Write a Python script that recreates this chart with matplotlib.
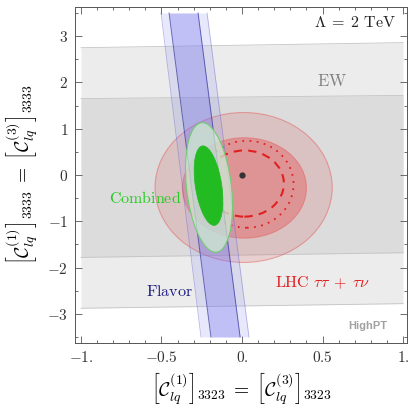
import matplotlib
matplotlib.use('Agg')
import matplotlib.pyplot as plt
from matplotlib.patches import Ellipse
from matplotlib.ticker import FixedLocator, FixedFormatter, MultipleLocator

plt.rcParams['mathtext.fontset'] = 'cm'
plt.rcParams['font.family'] = ['DejaVu Serif']

# EW bands (x ends, lower / upper edges)
ew_x = [-1.0, 1.0]
ew_outer_lo = [-2.88, -2.78]
ew_outer_hi = [2.75, 2.86]
ew_inner_lo = [-1.78, -1.68]
ew_inner_hi = [1.65, 1.72]

# Flavor band (edges at y = -3.5 and y = 3.5)
flav_y = [-3.5, 3.5]
flav_outer_l = [-0.255, -0.503]
flav_outer_r = [0.043, -0.217]
flav_inner_l = [-0.193, -0.453]
flav_inner_r = [-0.012, -0.273]

# LHC regions: (cx, cy, width, height)
lhc_outer = (0.01, -0.27, 1.10, 3.24)
lhc_inner = (0.015, -0.28, 0.77, 2.17)
lhc_dotted = (0.03, -0.20, 0.58, 1.88)
lhc_dashed = (0.015, -0.185, 0.49, 1.43)
lhc_best = (0.0, 0.0)

# Combined fit: (cx, cy, width, height, angle)
comb_outer = (-0.205, -0.27, 0.28, 2.80, 1.7)
comb_inner = (-0.208, -0.23, 0.165, 1.72, 2.3)

fig = plt.figure(figsize=(4.11, 4.11), dpi=100)
ax = fig.add_axes([0.1825, 0.1655, 0.808, 0.8175])

# EW
ax.fill_between(ew_x, ew_outer_lo, ew_outer_hi, color='#ececec', lw=0, zorder=1)
ax.fill_between(ew_x, ew_inner_lo, ew_inner_hi, color='#dcdcdc', lw=0, zorder=1)
for edge in (ew_outer_lo, ew_outer_hi, ew_inner_lo, ew_inner_hi):
    ax.plot(ew_x, edge, color='#c4c4c4', lw=0.6, zorder=1)

# LHC
cx, cy, w, h = lhc_outer
ax.add_patch(Ellipse((cx, cy), w, h, facecolor=(0.85, 0.2, 0.2, 0.15),
                     edgecolor=(0.9, 0.3, 0.3, 0.45), lw=0.8, zorder=2))
cx, cy, w, h = lhc_inner
ax.add_patch(Ellipse((cx, cy), w, h, facecolor=(0.9, 0.25, 0.25, 0.35),
                     edgecolor=(0.9, 0.3, 0.3, 0.4), lw=0.8, zorder=2))
cx, cy, w, h = lhc_dotted
ax.add_patch(Ellipse((cx, cy), w, h, fill=False, edgecolor='#e02020',
                     lw=1.3, ls=(0, (1, 3)), zorder=3))
cx, cy, w, h = lhc_dashed
ax.add_patch(Ellipse((cx, cy), w, h, fill=False, edgecolor='#e02020',
                     lw=1.5, ls=(0, (4, 3)), zorder=3))
ax.plot([lhc_best[0]], [lhc_best[1]], 'o', color='#333333', ms=3.5, zorder=6)

# Flavor
ax.fill_betweenx(flav_y, flav_outer_l, flav_outer_r, color=(0.6, 0.6, 0.95, 0.22), lw=0, zorder=4)
ax.fill_betweenx(flav_y, flav_inner_l, flav_inner_r, color=(0.4, 0.4, 0.92, 0.3), lw=0, zorder=4)
ax.plot(flav_outer_l, flav_y, color=(0.4, 0.4, 0.8, 0.45), lw=0.6, zorder=4)
ax.plot(flav_outer_r, flav_y, color=(0.4, 0.4, 0.8, 0.45), lw=0.6, zorder=4)
ax.plot(flav_inner_l, flav_y, color=(0.2, 0.2, 0.6, 0.7), lw=0.7, zorder=4)
ax.plot(flav_inner_r, flav_y, color=(0.2, 0.2, 0.6, 0.7), lw=0.7, zorder=4)

# Combined
cx, cy, w, h, a = comb_outer
ax.add_patch(Ellipse((cx, cy), w, h, angle=a, facecolor=(0.82, 0.94, 0.82, 0.7),
                     edgecolor=(0.45, 0.8, 0.45), lw=0.8, zorder=5))
cx, cy, w, h, a = comb_inner
ax.add_patch(Ellipse((cx, cy), w, h, angle=a, facecolor='#22bb22',
                     edgecolor='#22bb22', lw=0.5, zorder=5))

# labels in plot
ax.text(0.70, 3.30, r'$\Lambda\;=\;2\ \mathrm{TeV}$', fontsize=11.5, ha='center', va='center', color='#222222', zorder=7)
ax.text(0.56, 2.02, r'$\mathrm{EW}$', fontsize=12, ha='center', va='center', color='#808080', zorder=7)
ax.text(-0.60, -0.50, r'$\mathrm{Combined}$', fontsize=11.5, ha='center', va='center', color='#22cc22', zorder=7)
ax.text(-0.45, -2.52, r'$\mathrm{Flavor}$', fontsize=11.5, ha='center', va='center', color='#1c1c80', zorder=7)
ax.text(0.50, -2.33, r'$\mathrm{LHC}\ \tau\tau\;+\;\tau\nu$', fontsize=11.5, ha='center', va='center', color='#e02020', zorder=7)
ax.text(0.78, -3.26, 'HighPT', fontsize=8, fontweight='bold', family='Liberation Sans',
        ha='center', va='center', color='#a0a0a0', zorder=7)

ax.set_xlim(-1.037, 1.025)
ax.set_ylim(-3.63, 3.63)

xticks = [-1.0, -0.5, 0.0, 0.5, 1.0]
xlabels = [r'$-1.$', r'$-0.5$', r'$0.$', r'$0.5$', r'$1.$']
yticks = [-3, -2, -1, 0, 1, 2, 3]
ylabels = [r'$-3$', r'$-2$', r'$-1$', r'$0$', r'$1$', r'$2$', r'$3$']
ax.xaxis.set_major_locator(FixedLocator(xticks))
ax.xaxis.set_major_formatter(FixedFormatter(xlabels))
ax.yaxis.set_major_locator(FixedLocator(yticks))
ax.yaxis.set_major_formatter(FixedFormatter(ylabels))
ax.xaxis.set_minor_locator(MultipleLocator(0.1))
ax.yaxis.set_minor_locator(MultipleLocator(0.5))
ax.tick_params(which='both', direction='in', top=True, right=True, color='#555555', width=0.6,
               labelsize=11, labelcolor='#333333')
ax.tick_params(which='major', length=5, pad=5)
ax.tick_params(which='minor', length=2.5)
for s in ax.spines.values():
    s.set_color('#555555')
    s.set_linewidth(0.7)

ax.set_xlabel(r'$\left[\mathcal{C}_{lq}^{(1)}\right]_{3323}\;=\;\left[\mathcal{C}_{lq}^{(3)}\right]_{3323}$',
              fontsize=14, labelpad=4)
ax.set_ylabel(r'$\left[\mathcal{C}_{lq}^{(1)}\right]_{3333}\;=\;\left[\mathcal{C}_{lq}^{(3)}\right]_{3333}$',
              fontsize=14, labelpad=5)

fig.savefig('out.png', dpi=100)
